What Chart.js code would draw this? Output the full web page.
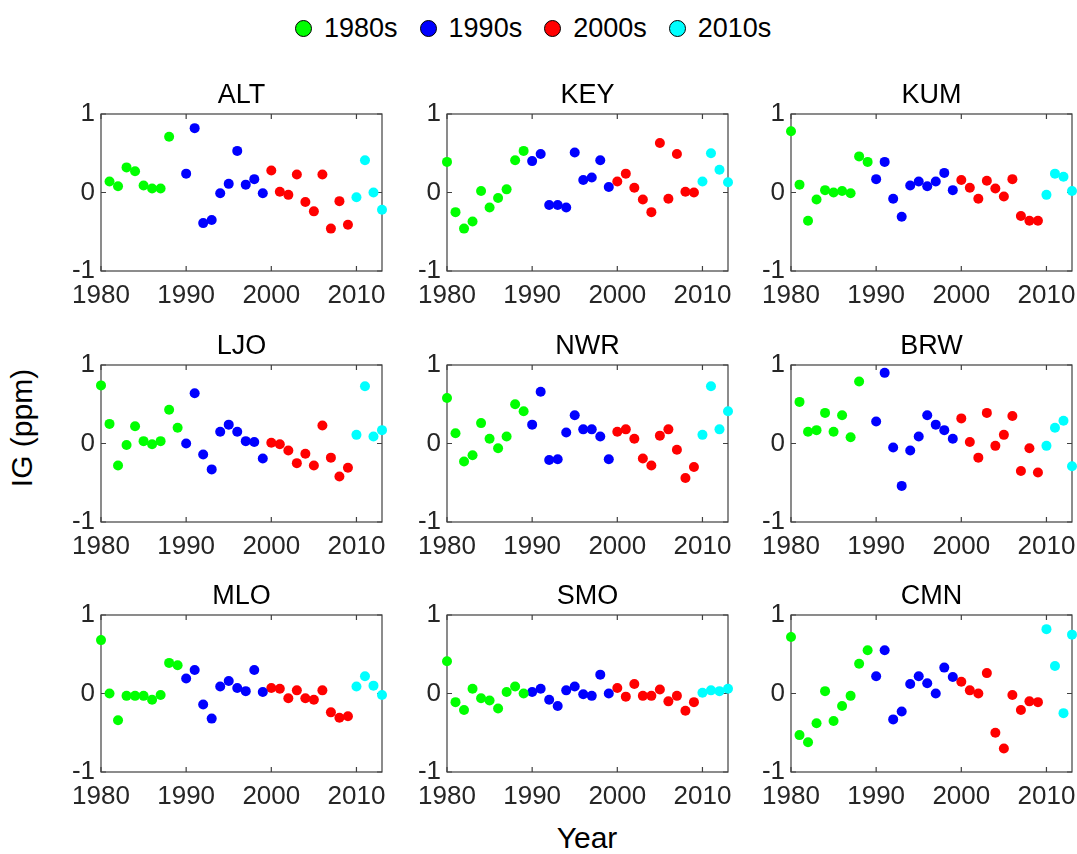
<!DOCTYPE html>
<html>
<head>
<meta charset="utf-8">
<title>IG by station</title>
<script src="https://cdn.jsdelivr.net/npm/chart.js@4.4.1/dist/chart.umd.min.js"></script>
<style>
  html, body { margin: 0; padding: 0; background: #fff; }
  body {
    width: 1077px; height: 854px; position: relative; overflow: hidden;
    font-family: 'Liberation Sans', Arial, sans-serif; color: #000;
  }
  .panel { position: absolute; }
  #legend {
    position: absolute; top: 13px; left: 295px; height: 30px;
    display: flex; align-items: center; font-size: 27px; white-space: nowrap;
  }
  #legend .item { display: flex; align-items: center; margin-right: 22px; }
  #legend .dot {
    width: 17px; height: 17px; box-sizing: border-box; border-radius: 50%;
    border: 1.6px solid #000; margin-right: 12px;
  }
  .axis-label { position: absolute; font-size: 30px; line-height: 34px; text-align: center; }
  #ylabel { width: 200px; left: -78px; top: 411px; transform: rotate(-90deg); }
  #xlabel { width: 200px; left: 487px; top: 821px; }
</style>
</head>
<body>
<div id="legend"></div>
<div id="ylabel" class="axis-label">IG (ppm)</div>
<div id="xlabel" class="axis-label">Year</div>

<script>
// ---------- Data -----------------------------------------------------------

const YEARS = [
  1980, 1981, 1982, 1983, 1984, 1985, 1986, 1987, 1988, 1989,
  1990, 1991, 1992, 1993, 1994, 1995, 1996, 1997, 1998, 1999,
  2000, 2001, 2002, 2003, 2004, 2005, 2006, 2007, 2008, 2009,
  2010, 2011, 2012, 2013,
];

const STATIONS = ['ALT', 'KEY', 'KUM', 'LJO', 'NWR', 'BRW', 'MLO', 'SMO', 'CMN'];

const ALT = [null, 0.14, 0.08, 0.32, 0.27, 0.09, 0.05, 0.05, 0.71, null,
  0.24, 0.82, -0.39, -0.35, -0.01, 0.11, 0.53, 0.10, 0.17, -0.01,
  0.28, 0.01, -0.03, 0.23, -0.12, -0.24, 0.23, -0.46, -0.11, -0.41,
  -0.06, 0.41, 0.00, -0.22];
const KEY = [0.39, -0.25, -0.46, -0.37, 0.02, -0.19, -0.07, 0.04, 0.41, 0.53,
  0.40, 0.49, -0.16, -0.16, -0.19, 0.51, 0.16, 0.19, 0.41, 0.07,
  0.14, 0.24, 0.06, -0.09, -0.25, 0.63, -0.08, 0.49, 0.01, 0.00,
  0.14, 0.50, 0.29, 0.13];
const KUM = [0.78, 0.10, -0.36, -0.09, 0.03, 0.00, 0.02, -0.01, 0.46, 0.39,
  0.17, 0.39, -0.08, -0.31, 0.09, 0.14, 0.08, 0.14, 0.25, 0.03,
  0.16, 0.06, -0.08, 0.15, 0.05, -0.05, 0.17, -0.30, -0.36, -0.36,
  -0.03, 0.24, 0.20, 0.02];
const LJO = [0.74, 0.25, -0.28, -0.02, 0.22, 0.03, -0.01, 0.03, 0.43, 0.20,
  0.00, 0.64, -0.14, -0.33, 0.15, 0.24, 0.15, 0.03, 0.02, -0.19,
  0.01, -0.01, -0.09, -0.25, -0.13, -0.28, 0.23, -0.18, -0.42, -0.31,
  0.11, 0.73, 0.09, 0.17];
const NWR = [0.58, 0.13, -0.23, -0.15, 0.26, 0.06, -0.06, 0.09, 0.50, 0.41,
  0.24, 0.66, -0.21, -0.20, 0.14, 0.36, 0.18, 0.18, 0.09, -0.20,
  0.15, 0.18, 0.06, -0.19, -0.28, 0.10, 0.18, -0.08, -0.44, -0.30,
  0.11, 0.73, 0.18, 0.41];
const BRW = [null, 0.53, 0.15, 0.17, 0.39, 0.15, 0.36, 0.08, 0.79, null,
  0.28, 0.90, -0.05, -0.54, -0.09, 0.09, 0.36, 0.24, 0.17, 0.06,
  0.32, 0.02, -0.18, 0.39, -0.03, 0.11, 0.35, -0.35, -0.06, -0.37,
  -0.03, 0.20, 0.29, -0.29];
const MLO = [0.68, 0.00, -0.34, -0.03, -0.03, -0.03, -0.08, -0.02, 0.39, 0.36,
  0.19, 0.30, -0.14, -0.32, 0.09, 0.16, 0.07, 0.03, 0.30, 0.02,
  0.07, 0.06, -0.06, 0.04, -0.06, -0.08, 0.04, -0.24, -0.31, -0.29,
  0.09, 0.22, 0.10, -0.02];
const SMO = [0.41, -0.11, -0.21, 0.06, -0.06, -0.09, -0.19, 0.02, 0.09, 0.00,
  0.02, 0.06, -0.08, -0.16, 0.04, 0.09, -0.01, -0.03, 0.24, 0.00,
  0.07, -0.04, 0.12, -0.03, -0.03, 0.05, -0.10, -0.03, -0.22, -0.11,
  0.01, 0.04, 0.03, 0.06];
const CMN = [0.72, -0.53, -0.62, -0.38, 0.03, -0.35, -0.16, -0.03, 0.38, 0.55,
  0.22, 0.55, -0.33, -0.23, 0.12, 0.22, 0.13, 0.00, 0.33, 0.21,
  0.15, 0.04, 0.00, 0.26, -0.50, -0.70, -0.02, -0.21, -0.10, -0.11,
  0.82, 0.35, -0.25, 0.75];

const SERIES = { ALT, KEY, KUM, LJO, NWR, BRW, MLO, SMO, CMN };

const DECADE_LABELS = ['1980s', '1990s', '2000s', '2010s'];
const DECADE_STARTS = [1980, 1990, 2000, 2010];
const DECADE_COLORS = ['#00ff00', '#0000ff', '#ff0000', '#00ffff'];

const X_TICKS = [1980, 1990, 2000, 2010];
const Y_TICKS = [-1, 0, 1];
const X_MIN = 1980;
const X_MAX = 2013;

// ---------- Layout ----------------------------------------------------------

const FONT = "'Liberation Sans', Arial, sans-serif";
const AXIS_COLOR = '#404040';
const TICK_COLOR = '#262626';
const TICK_LEN = 5;

const PLOT_LEFT = [101, 447, 791];   // left edge of each column's plot box
const PLOT_TOP = [114, 365, 615];    // top edge of each row's plot box
const PLOT_W = 281;
const PLOT_H = 157;
const Y_AXIS_W = 44;
const X_AXIS_H = 40;
const TITLE_H = 38;
const RIGHT_PAD = 5;

// ---------- Legend ----------------------------------------------------------

const legend = document.getElementById('legend');
DECADE_LABELS.forEach((label, i) => {
  const item = document.createElement('div');
  item.className = 'item';
  const dot = document.createElement('span');
  dot.className = 'dot';
  dot.style.background = DECADE_COLORS[i];
  const text = document.createElement('span');
  text.textContent = label;
  item.append(dot, text);
  legend.appendChild(item);
});

// ---------- Panels ----------------------------------------------------------

// Box around the plot area with inward tick marks on all four sides.
const panelFrame = {
  id: 'panelFrame',
  beforeDatasetsDraw(chart) {
    const { ctx, chartArea: a, scales: { x, y } } = chart;
    ctx.save();
    ctx.strokeStyle = AXIS_COLOR;
    ctx.lineWidth = 1.2;
    ctx.strokeRect(a.left, a.top, a.right - a.left, a.bottom - a.top);
    ctx.beginPath();
    for (const t of X_TICKS) {
      const px = x.getPixelForValue(t);
      ctx.moveTo(px, a.bottom);
      ctx.lineTo(px, a.bottom - TICK_LEN);
      ctx.moveTo(px, a.top);
      ctx.lineTo(px, a.top + TICK_LEN);
    }
    for (const t of Y_TICKS) {
      const py = y.getPixelForValue(t);
      ctx.moveTo(a.left, py);
      ctx.lineTo(a.left + TICK_LEN, py);
      ctx.moveTo(a.right, py);
      ctx.lineTo(a.right - TICK_LEN, py);
    }
    ctx.stroke();
    ctx.restore();
  },
};

function decadeDatasets(values) {
  return DECADE_LABELS.map((label, d) => {
    const start = DECADE_STARTS[d];
    const points = [];
    YEARS.forEach((yr, i) => {
      if (yr >= start && yr < start + 10 && values[i] != null) {
        points.push({ x: yr, y: values[i] });
      }
    });
    return {
      label,
      data: points,
      backgroundColor: DECADE_COLORS[d],
      borderColor: DECADE_COLORS[d],
      borderWidth: 0,
      pointRadius: 5,
      pointHoverRadius: 5,
      clip: false,
    };
  });
}

function renderPanel(station, idx) {
  const col = idx % 3;
  const row = Math.floor(idx / 3);

  const canvas = document.createElement('canvas');
  canvas.className = 'panel';
  const w = Y_AXIS_W + PLOT_W + RIGHT_PAD;
  const h = TITLE_H + PLOT_H + X_AXIS_H;
  canvas.width = w;
  canvas.height = h;
  canvas.style.width = w + 'px';
  canvas.style.height = h + 'px';
  canvas.style.left = (PLOT_LEFT[col] - Y_AXIS_W) + 'px';
  canvas.style.top = (PLOT_TOP[row] - TITLE_H) + 'px';
  document.body.appendChild(canvas);

  new Chart(canvas, {
    type: 'scatter',
    data: { datasets: decadeDatasets(SERIES[station]) },
    options: {
      responsive: false,
      animation: false,
      events: [],
      layout: { padding: { top: 0, right: RIGHT_PAD, bottom: 0, left: 0 } },
      plugins: {
        legend: { display: false },
        tooltip: { enabled: false },
        title: {
          display: true,
          text: station,
          fullSize: false,
          color: '#000',
          font: { family: FONT, size: 27, weight: 'normal', lineHeight: '32px' },
          padding: { top: 4, bottom: 2 },
        },
      },
      scales: {
        x: {
          type: 'linear',
          min: X_MIN,
          max: X_MAX,
          afterBuildTicks: (scale) => { scale.ticks = X_TICKS.map((v) => ({ value: v })); },
          afterFit: (scale) => {
            scale.height = X_AXIS_H;
            // keep the plot box at full width even though "2010" overhangs a little
            scale.paddingLeft = 0;
            scale.paddingRight = 0;
          },
          grid: { display: false, drawTicks: false },
          border: { display: false },
          ticks: {
            padding: 9,
            color: TICK_COLOR,
            font: { family: FONT, size: 26 },
            maxRotation: 0,
            autoSkip: false,
            callback: (v) => String(v),
          },
        },
        y: {
          type: 'linear',
          min: -1,
          max: 1,
          afterBuildTicks: (scale) => { scale.ticks = Y_TICKS.map((v) => ({ value: v })); },
          afterFit: (scale) => { scale.width = Y_AXIS_W; },
          grid: { display: false, drawTicks: false },
          border: { display: false },
          ticks: {
            padding: 6,
            color: TICK_COLOR,
            font: { family: FONT, size: 26 },
            callback: (v) => String(v),
          },
        },
      },
    },
    plugins: [panelFrame],
  });
}

STATIONS.forEach(renderPanel);
</script>
</body>
</html>
